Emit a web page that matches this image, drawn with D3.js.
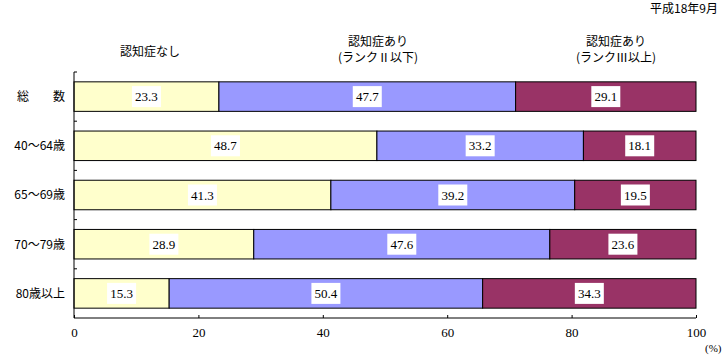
<!DOCTYPE html>
<html><head><meta charset="utf-8">
<script src="https://cdn.jsdelivr.net/npm/d3@7"></script>
<style>body{margin:0;background:#fff}</style>
</head><body>
<svg id="c" width="727" height="357"></svg>
<script>
const categories = ["総　　数","40～64歳","65～69歳","70～79歳","80歳以上"];
const seriesNames = ["認知症なし","認知症あり(ランクⅡ以下)","認知症あり(ランクⅢ以上)"];
const noDementia = [23.3,48.7,41.3,28.9,15.3];
const rankIIorLess = [47.7,33.2,39.2,47.6,50.4];
const rankIIIorMore = [29.1,18.1,19.5,23.6,34.3];
const xTicks = [0,20,40,60,80,100];
const colors = ["#FFFFCC","#9999FF","#993366"];

const svg = d3.select("#c");
const jp = "'Noto Sans CJK JP', sans-serif";
const num = "'Liberation Serif', serif";
const x = d3.scaleLinear().domain([0,100]).range([74,696]);
const y = d3.scaleBand().domain(categories).range([72,318]).paddingInner(0.4).paddingOuter(0.2);

const series = [noDementia, rankIIorLess, rankIIIorMore];
const rows = categories.map((c,i)=>{
  let acc=0; return series.map((s,k)=>{const o={cat:c,k,x0:acc,x1:acc+s[i],v:s[i]}; acc+=s[i]; return o;});
}).flat();

svg.append("g").selectAll("rect").data(rows).join("rect")
  .attr("x",d=>x(d.x0)).attr("y",d=>y(d.cat))
  .attr("width",d=>x(Math.min(d.x1,100))-x(d.x0)).attr("height",y.bandwidth())
  .attr("fill",d=>colors[d.k]).attr("stroke","#000").attr("stroke-width",1);

const lab = svg.append("g").selectAll("g").data(rows).join("g")
  .attr("transform",d=>`translate(${(x(d.x0)+x(Math.min(d.x1,100)))/2},${y(d.cat)+y.bandwidth()/2})`);
lab.append("rect").attr("x",-14.5).attr("y",-10.5).attr("width",29).attr("height",21).attr("fill","#fff");
lab.append("text").attr("text-anchor","middle").attr("dy","0.36em")
  .style("font-family",num).style("font-size","13px").text(d=>d.v.toFixed(1));

// x axis
const xa = svg.append("g").attr("transform","translate(0,318)")
  .call(d3.axisBottom(x).tickValues(xTicks).tickSize(-3).tickPadding(10).tickFormat(d3.format("d")));
xa.select(".domain").attr("d","M74,0H696").attr("stroke","#000");
xa.selectAll(".tick line").attr("stroke","#000");
xa.selectAll("text").style("font-family",num).style("font-size","13px").attr("fill","#000");
svg.append("text").attr("x",705).attr("y",352).style("font-family",num).style("font-size","11px").text("(%)");

// y axis
const step = y.step();
const bounds = d3.range(categories.length).map(i=>72+ i*(246/5));
const ya = svg.append("g");
ya.append("line").attr("x1",74).attr("x2",74).attr("y1",72).attr("y2",318).attr("stroke","#000");
ya.selectAll("line.t").data(bounds).join("line").attr("class","t")
  .attr("x1",74).attr("x2",77).attr("y1",d=>d).attr("y2",d=>d).attr("stroke","#000");
ya.selectAll("text").data(categories).join("text")
  .attr("x",65).attr("y",d=>y(d)+y.bandwidth()/2).attr("dy","0.36em").attr("text-anchor","end")
  .style("font-family",jp).style("font-size","12px").text(d=>d);

// headers
svg.append("text").attr("x",718).attr("y",13).attr("text-anchor","end")
  .style("font-family",jp).style("font-size","12px").text("平成18年9月");
svg.append("text").attr("x",150).attr("y",56).attr("text-anchor","middle")
  .style("font-family",jp).style("font-size","12px").text("認知症なし");
[[378,"認知症あり","(ランクⅡ以下)"],[616,"認知症あり","(ランクⅢ以上)"]].forEach(([cx,a,b])=>{
  svg.append("text").attr("x",cx).attr("y",46).attr("text-anchor","middle")
    .style("font-family",jp).style("font-size","12px").text(a);
  svg.append("text").attr("x",cx).attr("y",62).attr("text-anchor","middle")
    .style("font-family",jp).style("font-size","12px").text(b);
});
</script>
</body></html>
